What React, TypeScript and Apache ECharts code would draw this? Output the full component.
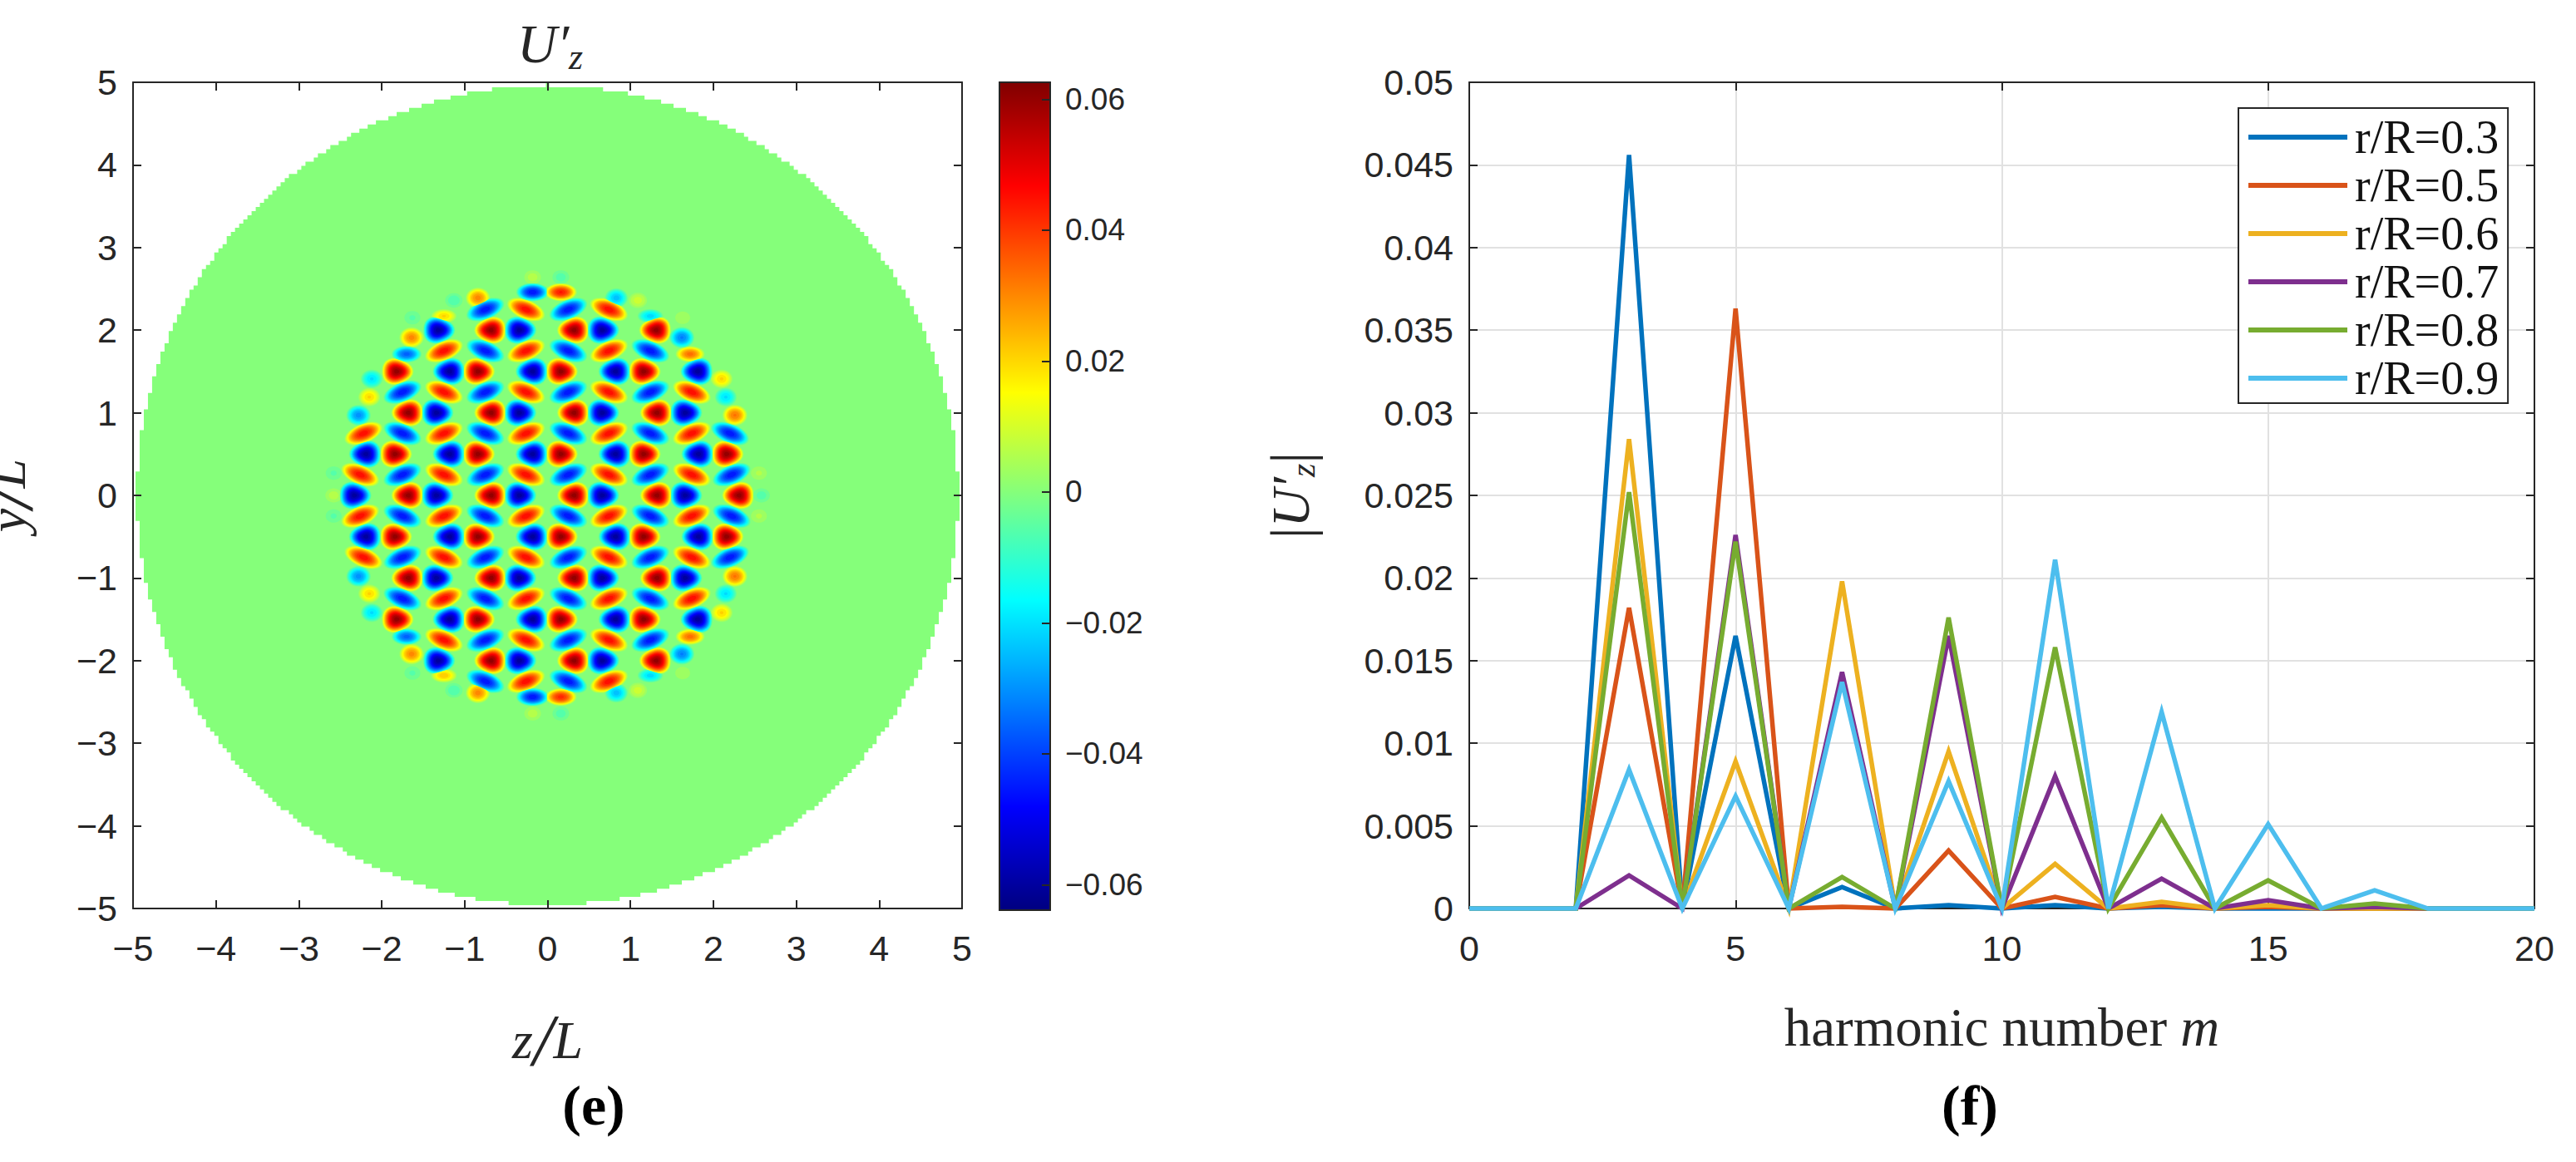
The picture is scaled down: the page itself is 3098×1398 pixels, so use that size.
import React, { useEffect, useRef } from "react";
import * as echarts from "echarts";

// ---- right panel data ----
const harmonicNumbers = [0,1,2,3,4,5,6,7,8,9,10,11,12,13,14,15,16,17,18,19,20];
const seriesNames = ["r/R=0.3","r/R=0.5","r/R=0.6","r/R=0.7","r/R=0.8","r/R=0.9"];
const seriesColors = ["#0072BD","#D95319","#EDB120","#7E2F8E","#77AC30","#4DBEEE"];
const r03 = [0,0,0,0.0456,0,0.0165,0,0.0013,0,0.0002,0,0.0002,0,0.0001,0,0,0,0,0,0,0];
const r05 = [0,0,0,0.0182,0,0.0363,0,0.0001,0,0.0035,0,0.0007,0,0.0002,0,0.0001,0,0,0,0,0];
const r06 = [0,0,0,0.0284,0,0.0089,0,0.0198,0,0.0095,0,0.0027,0,0.0004,0,0.0002,0,0,0,0,0];
const r07 = [0,0,0,0.0020,0,0.0226,0,0.0143,0,0.0165,0,0.0080,0,0.0018,0,0.0005,0,0.0001,0,0,0];
const r08 = [0,0,0,0.0252,0,0.0222,0,0.0019,0,0.0176,0,0.0158,0,0.0055,0,0.0017,0,0.0003,0,0,0];
const r09 = [0,0,0,0.0084,0,0.0068,0,0.0137,0,0.0077,0,0.0211,0,0.0119,0,0.0051,0,0.0011,0,0,0];
const seriesValues = [r03,r05,r06,r07,r08,r09];

// ---- left panel: peaks of the field ----
const peakRowY = [2,1.5,1,0.5,0,-0.5,-1,-1.5,-2];
const redPeakZ = [
  [-0.68,0.32,1.31],[-1.82,-0.84,0.16,1.16],[-1.68,-0.68,0.32,1.32],[-1.84,-0.84,0.16,1.16,2.16],
  [-1.68,-0.68,0.32,1.32,2.31],
  [-1.84,-0.84,0.16,1.16,2.16],[-1.68,-0.68,0.32,1.32],[-1.82,-0.84,0.16,1.16],[-0.68,0.32,1.31],
];
const bluePeakZ = [
  [-1.32,-0.34,0.66],[-1.18,-0.18,0.82,1.81],[-1.34,-0.34,0.66,1.66],[-2.19,-1.18,-0.18,0.82,1.82],
  [-2.33,-1.34,-0.34,0.66,1.66],
  [-2.19,-1.18,-0.18,0.82,1.82],[-1.34,-0.34,0.66,1.66],[-1.18,-0.18,0.82,1.81],[-1.32,-0.34,0.66],
];
const redPeakPoint = [-1,1,-1,1,-1,1,-1,1,-1];
const peakValue = 0.06;

const barRowY = [2.25,1.75,1.25,0.75,0.25,-0.25,-0.75,-1.25,-1.75,-2.25];
const redBarZ = [
  [-0.26,0.74],[-1.25,-0.26,0.74],[-1.25,-0.26,0.74,1.74],[-2.22,-1.25,-0.26,0.74,1.74],[-2.26,-1.25,-0.26,0.74,1.74],
  [-2.26,-1.25,-0.26,0.74,1.74],[-2.22,-1.25,-0.26,0.74,1.74],[-1.25,-0.26,0.74,1.74],[-1.25,-0.26,0.74],[-0.26,0.74],
];
const blueBarZ = [
  [-0.75,0.25],[-0.75,0.25,1.24],[-1.75,-0.75,0.25,1.24],[-1.75,-0.75,0.25,1.24,2.2],[-1.75,-0.75,0.25,1.24,2.22],
  [-1.75,-0.75,0.25,1.24,2.22],[-1.75,-0.75,0.25,1.24,2.2],[-1.75,-0.75,0.25,1.24],[-0.75,0.25,1.24],[-0.75,0.25],
];
const redBarTilt = [1,-1,1,-1,1,-1,1,-1,1,-1];
const barValue = 0.046;

// z, y, value
const flatPeaks = [
  [-0.18,2.46,-0.046],[0.16,2.46,0.044],[-0.18,-2.44,-0.046],[0.16,-2.44,0.042],
  [-1.70,1.71,-0.036],[1.72,1.71,0.033],[-1.70,-1.71,-0.036],[1.72,-1.71,0.033],
  [-1.25,2.17,0.02],[1.24,2.17,-0.021],[-1.25,-2.18,0.022],[1.24,-2.18,-0.021],
];
const edgePeaks = [
  [-1.64,1.91,0.03],[1.62,1.91,-0.032],[-1.64,-1.92,0.03],[1.62,-1.92,-0.032],
  [-0.84,2.39,0.03],[0.83,2.39,-0.024],[-0.84,-2.39,0.03],[0.83,-2.39,-0.024],
  [-2.28,0.97,-0.03],[2.26,0.97,0.032],[-2.28,-0.98,-0.03],[2.26,-0.98,0.032],
  [-2.15,1.19,0.02],[2.15,1.19,-0.02],[-2.15,-1.19,0.02],[2.15,-1.19,-0.02],
  [-2.12,1.41,-0.02],[2.10,1.41,0.02],[-2.12,-1.42,-0.02],[2.10,-1.42,0.02],
  [-0.18,2.64,0.006],[0.16,2.64,-0.006],[-0.18,-2.64,0.006],[0.16,-2.64,-0.006],
  [-1.13,2.36,-0.007],[1.09,2.36,0.009],[-1.13,-2.36,-0.007],[1.09,-2.36,0.009],
  [-1.63,2.15,-0.005],[1.63,2.15,0.004],[-1.63,-2.15,-0.005],[1.63,-2.15,0.004],
  [-2.58,0,0.006],[2.58,0,-0.006],[-2.58,0.27,-0.005],[2.55,0.27,0.005],[-2.58,-0.25,-0.005],[2.55,-0.25,0.005],
];

const colorMin = -0.0639;
const colorMax = 0.0626;
const colorTicks = [-0.06,-0.04,-0.02,0,0.02,0.04,0.06];
const discRadius = 4.96;

const clamp = (v: number) => Math.max(0, Math.min(1, v));
function jet(v: number) {
  const t = (v - colorMin) / (colorMax - colorMin);
  const c = (x: number) => Math.round(clamp(1.5 - Math.abs(4 * t - x)) * 255);
  return `rgb(${c(3)},${c(2)},${c(1)})`;
}

const KIND_ROUND = 0, KIND_BAR = 1, KIND_FLAT = 2;
type Blob = [number, number, number, number, number];
const blobs: Blob[] = [];
peakRowY.forEach((y, i) => {
  redPeakZ[i].forEach((z) => blobs.push([z, y, peakValue, KIND_ROUND, redPeakPoint[i]]));
  bluePeakZ[i].forEach((z) => blobs.push([z, y, -peakValue, KIND_ROUND, -redPeakPoint[i]]));
});
barRowY.forEach((y, i) => {
  redBarZ[i].forEach((z) => blobs.push([z, y, barValue, KIND_BAR, redBarTilt[i]]));
  blueBarZ[i].forEach((z) => blobs.push([z, y, -barValue, KIND_BAR, -redBarTilt[i]]));
});
flatPeaks.forEach(([z, y, v]) => blobs.push([z, y, v, KIND_FLAT, 0]));
edgePeaks.forEach(([z, y, v]) => blobs.push([z, y, v, KIND_ROUND, 0]));

const LEVEL_STEP = 0.003;
const contourRows: number[][] = [];
for (let l = LEVEL_STEP / 2; l < peakValue; l += LEVEL_STEP) {
  blobs.forEach(([z, y, v, k, o]) => {
    if (Math.abs(v) > l) contourRows.push([z, y, v, k, o, l]);
  });
}

function renderContour(_p: any, api: any) {
  const z = api.value(0), y = api.value(1), v = api.value(2), kind = api.value(3), o = api.value(4), level = api.value(5);
  const c = api.coord([z, y]);
  const s = api.size([1, 1]);
  const mag = Math.abs(v);
  const scale = 0.55 + 0.45 * mag / peakValue;
  const rho = Math.sqrt(1 - level / mag);
  const rx = (kind === KIND_BAR ? 0.275 : kind === KIND_FLAT ? 0.225 : 0.195) * scale * rho * s[0];
  const ry = (kind === KIND_BAR ? 0.135 : kind === KIND_FLAT ? 0.125 : 0.165) * scale * rho * s[1];
  const rot = kind === KIND_BAR ? (o * 22 * Math.PI) / 180 : 0;
  const a = kind === KIND_ROUND ? 0.07 * Math.abs(o) : 0;
  const phase = o < 0 ? Math.PI : 0;
  const pts: number[][] = [];
  const N = 30;
  for (let i = 0; i < N; i++) {
    const th = (i / N) * 2 * Math.PI;
    const w = 1 + a * Math.cos(3 * (th - phase));
    const px = rx * w * Math.cos(th), py = ry * w * Math.sin(th);
    pts.push([c[0] + px * Math.cos(rot) - py * Math.sin(rot), c[1] + px * Math.sin(rot) + py * Math.cos(rot)]);
  }
  return { type: "polygon", shape: { points: pts }, style: { fill: jet(Math.sign(v) * (level + LEVEL_STEP / 2)), stroke: null } };
}

function renderDisc(_p: any, api: any) {
  const R = api.value(2);
  const step = 0.05;
  const rows: number[][] = [];
  for (let y = -R; y <= R + 1e-6; y += step) {
    const ym = y + step / 2;
    const w = Math.floor(Math.sqrt(Math.max(0, R * R - ym * ym)) / step) * step + 0.02;
    rows.push([y, w]);
  }
  const pts: number[][] = [];
  rows.forEach(([y, w]) => {
    pts.push(api.coord([w, y]));
    pts.push(api.coord([w, y + step]));
  });
  rows.slice().reverse().forEach(([y, w]) => {
    pts.push(api.coord([-w, y + step]));
    pts.push(api.coord([-w, y]));
  });
  return { type: "polygon", shape: { points: pts }, style: { fill: jet(0), stroke: null } };
}

function renderColorbar(_p: any, api: any) {
  const a = api.coord([0, api.value(1)]);
  const b = api.coord([1, api.value(0)]);
  const stops = [];
  for (let i = 0; i <= 40; i++) {
    const t = i / 40;
    stops.push({ offset: t, color: jet(colorMax - t * (colorMax - colorMin)) });
  }
  return {
    type: "rect",
    shape: { x: a[0], y: a[1], width: b[0] - a[0], height: b[1] - a[1] },
    style: { fill: new echarts.graphic.LinearGradient(0, 0, 0, 1, stops) },
  };
}

const INK = "#262626";
const SANS = "Liberation Sans";
const SERIF = "Liberation Serif";
const lineStyle = { color: INK, width: 2 };

function minusFmt(v: number) {
  return v < 0 ? "\u2212" + Math.abs(v) : String(v);
}

function boxAxis(gridIndex: number, min: number, max: number, interval: number, pos: string, extra: any = {}) {
  return {
    type: "value", gridIndex, min, max, interval, position: pos, z: 6,
    nameMoveOverlap: false,
    axisLine: { show: true, onZero: false, lineStyle },
    axisTick: { show: true, inside: true, length: 10, lineStyle },
    axisLabel: { show: false },
    splitLine: { show: false },
    ...extra,
  };
}
const tickLabel = (margin: number, formatter: any, size = 43) => ({
  show: true, margin, color: INK, fontFamily: SANS, fontSize: size, formatter,
});
const gridBox = (left: number, top: number, width: number, height: number) => ({
  left, top, width, height, containLabel: false, outerBoundsMode: "none",
});

export default function App() {
  const ref = useRef<HTMLDivElement>(null);
  useEffect(() => {
    const chart = echarts.init(ref.current!, undefined, { renderer: "svg" });
    const option: any = {
      animation: false,
      backgroundColor: "#ffffff",
      textStyle: { fontFamily: SANS },
      title: [
        {
          text: "{a|U\u2032}{b|z}", left: 622, top: 14, padding: 0,
          textStyle: {
            fontWeight: "normal",
            rich: {
              a: { fontFamily: SERIF, fontStyle: "italic", fontWeight: "normal", fontSize: 66, color: INK, lineHeight: 76, verticalAlign: "middle" },
              b: { fontFamily: SERIF, fontStyle: "italic", fontWeight: "normal", fontSize: 44, color: INK, lineHeight: 20, verticalAlign: "bottom" },
            },
          },
        },
        { text: "(e)", left: 714, top: 1296, textAlign: "center", padding: 0, textStyle: { fontFamily: SERIF, fontWeight: "bold", fontSize: 68, color: "#000" } },
        { text: "(f)", left: 2369, top: 1296, textAlign: "center", padding: 0, textStyle: { fontFamily: SERIF, fontWeight: "bold", fontSize: 68, color: "#000" } },
      ],
      grid: [gridBox(160, 99, 997, 994), gridBox(1202, 99, 61, 996), gridBox(1767, 99, 1281, 994)],
      xAxis: [
        boxAxis(0, -5, 5, 1, "bottom", {
          axisLabel: tickLabel(26, minusFmt),
          name: "{z|z}{s|/}{l|L}", nameLocation: "center", nameGap: 114,
          nameTextStyle: {
            rich: {
              z: { fontFamily: SERIF, fontStyle: "italic", fontSize: 64, color: INK },
              s: { fontFamily: SERIF, fontStyle: "italic", fontSize: 88, color: INK },
              l: { fontFamily: SERIF, fontStyle: "italic", fontSize: 64, color: INK },
            },
          },
        }),
        boxAxis(0, -5, 5, 1, "top"),
        boxAxis(1, 0, 1, 1, "bottom", { axisTick: { show: false } }),
        boxAxis(1, 0, 1, 1, "top", { axisTick: { show: false } }),
        boxAxis(2, 0, 20, 5, "bottom", {
          axisLabel: tickLabel(26, (v: number) => String(v)),
          splitLine: { show: true, lineStyle: { color: "#e1e1e1", width: 2 } },
          name: "{a|harmonic number }{b|m}", nameLocation: "center", nameGap: 110,
          nameTextStyle: {
            rich: {
              a: { fontFamily: SERIF, fontSize: 65, color: INK },
              b: { fontFamily: SERIF, fontStyle: "italic", fontSize: 65, color: INK },
            },
          },
        }),
        boxAxis(2, 0, 20, 5, "top"),
      ],
      yAxis: [
        boxAxis(0, -5, 5, 1, "left", {
          axisLabel: tickLabel(19, minusFmt),
          name: "{a|y}{s|/}{a|L}", nameLocation: "center", nameGap: 108, nameRotate: 90,
          nameTextStyle: {
            rich: {
              a: { fontFamily: SERIF, fontStyle: "italic", fontSize: 64, color: INK },
              s: { fontFamily: SERIF, fontStyle: "italic", fontSize: 88, color: INK },
            },
          },
        }),
        boxAxis(0, -5, 5, 1, "right"),
        {
          ...boxAxis(1, colorMin, colorMax, undefined as any, "right"),
          interval: undefined,
          axisTick: { show: true, inside: true, length: 10, lineStyle, customValues: colorTicks },
          axisLabel: { ...tickLabel(18, minusFmt, 37), customValues: colorTicks },
        },
        {
          ...boxAxis(1, colorMin, colorMax, undefined as any, "left"),
          interval: undefined,
          axisTick: { show: false },
        },
        boxAxis(2, 0, 0.05, 0.005, "left", {
          axisLabel: tickLabel(19, (v: number) => String(v)),
          splitLine: { show: true, lineStyle: { color: "#e1e1e1", width: 2 } },
          name: "{c|\u007C}{a|U\u2032}{b|z}{c|\u007C}", nameLocation: "center", nameGap: 179, nameRotate: 90,
          nameTextStyle: {
            rich: {
              a: { fontFamily: SERIF, fontStyle: "italic", fontSize: 64, color: INK, lineHeight: 72, verticalAlign: "middle" },
              b: { fontFamily: SERIF, fontStyle: "italic", fontSize: 42, color: INK, lineHeight: 20, verticalAlign: "bottom" },
              c: { fontFamily: SERIF, fontSize: 70, color: INK, lineHeight: 72, verticalAlign: "middle" },
            },
          },
        }),
        boxAxis(2, 0, 0.05, 0.005, "right"),
      ],
      legend: {
        show: true,
        left: 2692, top: 130, orient: "vertical",
        data: seriesNames,
        icon: "rect",
        itemWidth: 119, itemHeight: 6, itemGap: 0,
        padding: [6, 11, 1, 12],
        backgroundColor: "#ffffff", borderColor: INK, borderWidth: 2, borderRadius: 0,
        z: 10,
        textStyle: { fontFamily: SERIF, fontSize: 56, color: "#111", lineHeight: 58, padding: [0, 0, 0, 4] },
        itemStyle: { borderWidth: 0 },
      },
      series: [
        { type: "custom", xAxisIndex: 0, yAxisIndex: 0, coordinateSystem: "cartesian2d", clip: false, z: 1,
          renderItem: renderDisc, data: [[0, 0, discRadius]], encode: { x: 0, y: 1 }, silent: true },
        { type: "custom", xAxisIndex: 0, yAxisIndex: 0, coordinateSystem: "cartesian2d", clip: false, z: 2, progressive: 0,
          renderItem: renderContour, data: contourRows, encode: { x: 0, y: 1 }, silent: true },
        { type: "custom", xAxisIndex: 2, yAxisIndex: 2, coordinateSystem: "cartesian2d", clip: false, z: 1,
          renderItem: renderColorbar, data: [[colorMin, colorMax]], encode: { y: [0, 1] }, silent: true },
        ...seriesNames.map((name, i) => ({
          name, type: "line", xAxisIndex: 4, yAxisIndex: 4, z: 8, clip: false,
          symbol: "none", showSymbol: false, silent: true,
          color: seriesColors[i],
          itemStyle: { color: seriesColors[i] },
          lineStyle: { color: seriesColors[i], width: 5.5, join: "miter", miterLimit: 4, cap: "butt" },
          data: harmonicNumbers.map((m, k) => [m, seriesValues[i][k]]),
        })),
      ],
    };
    chart.setOption(option);
    return () => chart.dispose();
  }, []);
  return <div ref={ref} style={{ position: "absolute", left: 0, top: 0, width: 3098, height: 1398 }} />;
}
